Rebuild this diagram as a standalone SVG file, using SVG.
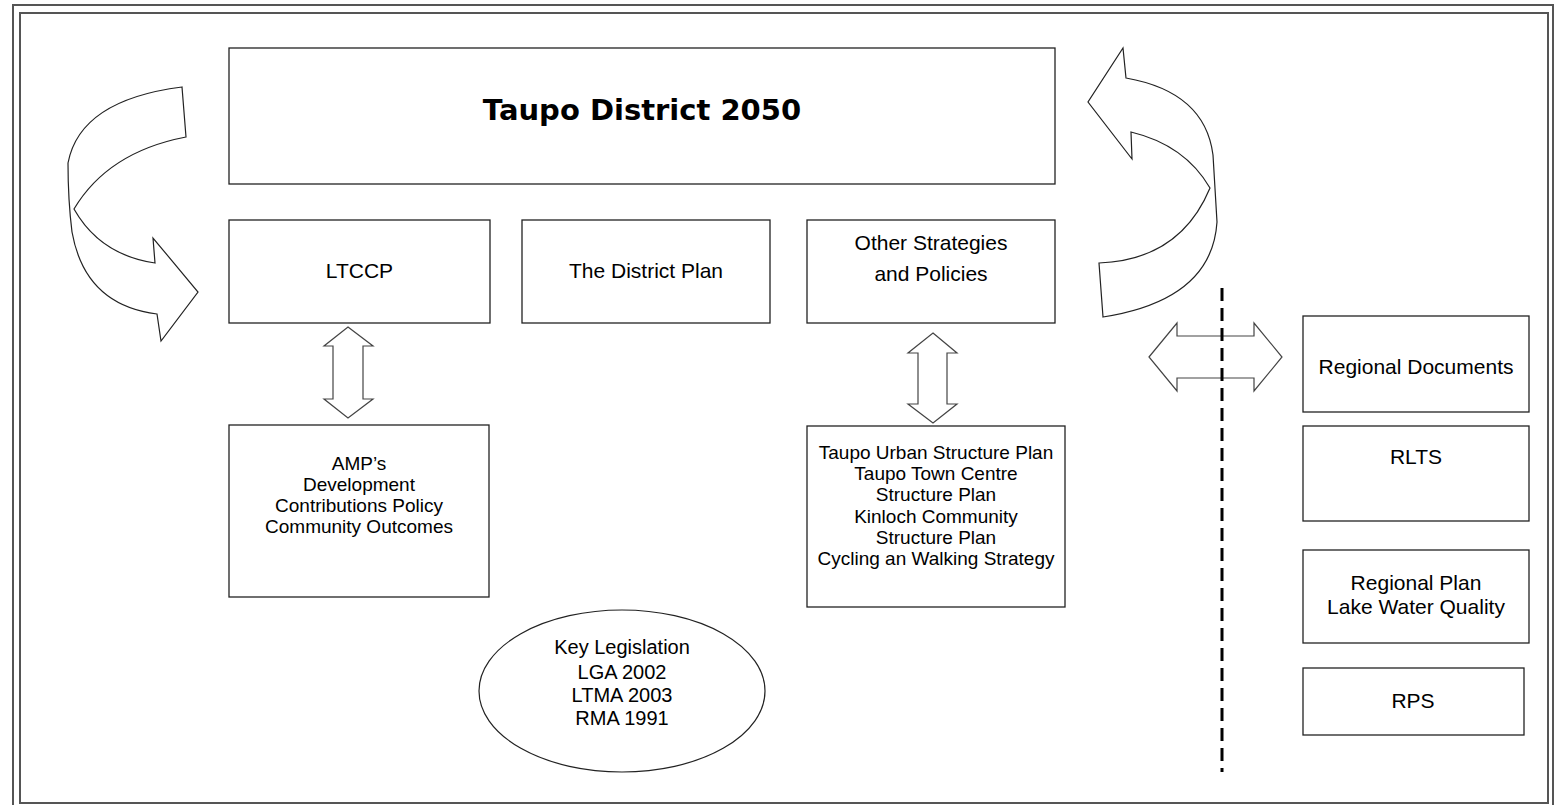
<svg xmlns="http://www.w3.org/2000/svg" width="1560" height="805" viewBox="0 0 1560 805">
<style>
.box{fill:#fff;stroke:#222;stroke-width:1.3}
.frame{fill:none;stroke:#555;stroke-width:2}
.arw{fill:#fff;stroke:#222;stroke-width:1.2;stroke-linejoin:miter}
.arw2{fill:#fff;stroke:#444;stroke-width:1.2;stroke-linejoin:miter}
.t{font-family:"Liberation Sans",Arial,sans-serif;fill:#000;text-anchor:middle}
.lbl{font-size:21px}
.sm{font-size:19px}
.el{font-size:20px}
.title{font-family:"DejaVu Sans",Verdana,sans-serif;font-weight:bold;font-size:29px;text-anchor:middle;fill:#000}
</style>
<rect x="0" y="0" width="1560" height="805" fill="#fff"/>
<rect class="frame" x="13" y="5" width="1540" height="812"/>
<rect class="frame" x="20" y="13" width="1528" height="790"/>

<g id="connectors">
<path class="arw" d="M182,87 L186,137 Q108,152 74,209 Q100,255 155,263 L153,238 L198,292 L161,341 L157,314 Q85,305 72,232 Q68,200 68,163 Q80,100 182,87 Z"/>
<path class="arw" d="M1126,78 Q1205,92 1213,155 L1217,222 Q1212,300 1103,317 L1099,263 Q1180,260 1210,188 Q1185,145 1131,132 L1132,159 L1088,102 L1123,48 Z"/>
<path class="arw2" d="M348,327 L373,346 L363,346 L363,399 L373,399 L348,418 L324,399 L333,399 L333,346 L324,346 Z"/>
<path class="arw2" d="M933,333 L957,353 L947,353 L947,404 L957,404 L933,423 L908,404 L918,404 L918,353 L908,353 Z"/>
<path class="arw2" d="M1149,357 L1177,323 L1177,336 L1254,336 L1254,323 L1282,357 L1254,391 L1254,378 L1177,378 L1177,391 Z"/>
<line x1="1222" y1="288" x2="1222" y2="772" stroke="#000" stroke-width="3" stroke-dasharray="13 7"/>
</g>

<g id="n-title">
<rect class="box" x="229" y="48" width="826" height="136"/>
<text class="title" x="642" y="120">Taupo District 2050</text>
</g>
<g id="n-ltccp">
<rect class="box" x="229" y="220" width="261" height="103"/>
<text class="t lbl" x="359.5" y="278">LTCCP</text>
</g>
<g id="n-districtplan">
<rect class="box" x="522" y="220" width="248" height="103"/>
<text class="t lbl" x="646" y="278">The District Plan</text>
</g>
<g id="n-other">
<rect class="box" x="807" y="220" width="248" height="103"/>
<text class="t lbl" x="931" y="250">Other Strategies</text>
<text class="t lbl" x="931" y="281">and Policies</text>
</g>
<g id="n-amp">
<rect class="box" x="229" y="425" width="260" height="172"/>
<text class="t sm" x="359" y="470">AMP’s</text>
<text class="t sm" x="359" y="491">Development</text>
<text class="t sm" x="359" y="512">Contributions Policy</text>
<text class="t sm" x="359" y="533">Community Outcomes</text>
</g>
<g id="n-structure">
<rect class="box" x="807" y="426" width="258" height="181"/>
<text class="t sm" x="936" y="459" font-size="18.5">Taupo Urban Structure Plan</text>
<text class="t sm" x="936" y="480" font-size="18.5">Taupo Town Centre</text>
<text class="t sm" x="936" y="501" font-size="18.5">Structure Plan</text>
<text class="t sm" x="936" y="523" font-size="18.5">Kinloch Community</text>
<text class="t sm" x="936" y="544" font-size="18.5">Structure Plan</text>
<text class="t sm" x="936" y="565" font-size="18.5">Cycling an Walking Strategy</text>
</g>
<g id="n-legislation">
<ellipse cx="622" cy="691" rx="143" ry="81" fill="#fff" stroke="#222" stroke-width="1.2"/>
<text class="t el" x="622" y="654">Key Legislation</text>
<text class="t el" x="622" y="679">LGA 2002</text>
<text class="t el" x="622" y="702">LTMA 2003</text>
<text class="t el" x="622" y="725">RMA 1991</text>
</g>
<g id="n-regional">
<rect class="box" x="1303" y="316" width="226" height="96"/>
<text class="t lbl" x="1416" y="374">Regional Documents</text>
</g>
<g id="n-rlts">
<rect class="box" x="1303" y="426" width="226" height="95"/>
<text class="t lbl" x="1416" y="464">RLTS</text>
</g>
<g id="n-regionalplan">
<rect class="box" x="1303" y="550" width="226" height="93"/>
<text class="t lbl" x="1416" y="590">Regional Plan</text>
<text class="t lbl" x="1416" y="614">Lake Water Quality</text>
</g>
<g id="n-rps">
<rect class="box" x="1303" y="668" width="221" height="67"/>
<text class="t lbl" x="1413" y="708">RPS</text>
</g>
</svg>
